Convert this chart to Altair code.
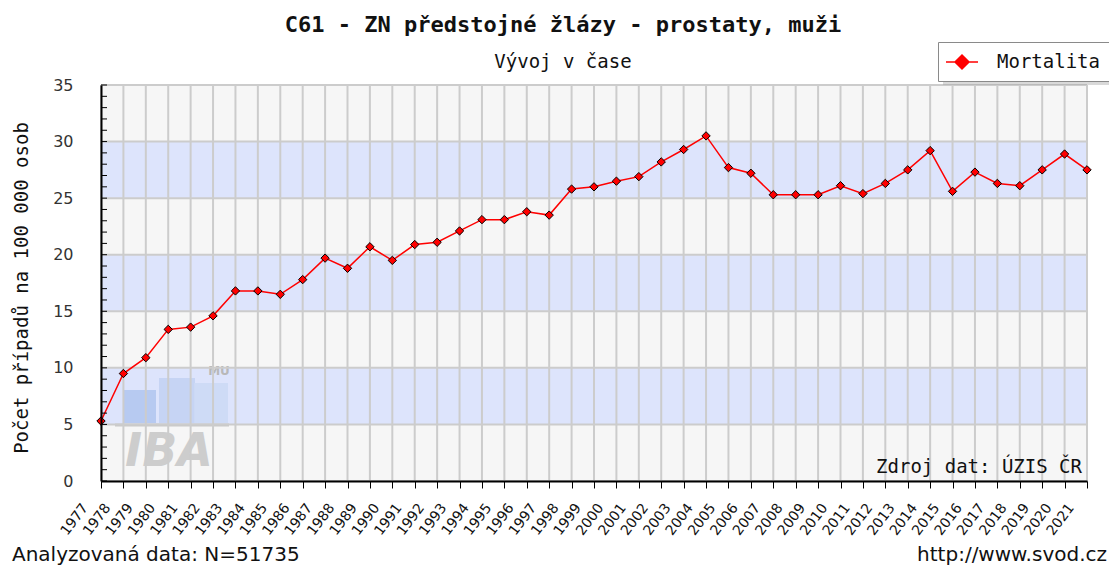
import altair as alt
import pandas as pd

# ---- data ----
years = list(range(1977, 2022))
mortalita = [5.3, 9.5, 10.9, 13.4, 13.6, 14.6, 16.8, 16.8, 16.5, 17.8,
             19.7, 18.8, 20.7, 19.5, 20.9, 21.1, 22.1, 23.1, 23.1, 23.8,
             23.5, 25.8, 26.0, 26.5, 26.9, 28.2, 29.3, 30.5, 27.7, 27.2,
             25.3, 25.3, 25.3, 26.1, 25.4, 26.3, 27.5, 29.2, 25.6, 27.3,
             26.3, 26.1, 27.5, 28.9, 27.5]
series_name = "Mortalita"
band_start = [0, 5, 10, 15, 20, 25, 30]
band_end = [5, 10, 15, 20, 25, 30, 35]
band_color = ["#f6f6f6", "#dde4fc", "#f6f6f6", "#dde4fc", "#f6f6f6", "#dde4fc", "#f6f6f6"]
y_major = [0, 5, 10, 15, 20, 25, 30, 35]
y_minor = list(range(0, 36))

title_text = "C61 - ZN předstojné žlázy - prostaty, muži"
subtitle_text = "Vývoj v čase"
ytitle_text = "Počet případů na 100 000 osob"
source_text = "Zdroj dat: ÚZIS ČR"
n_text = "Analyzovaná data: N=51735"
url_text = "http://www.svod.cz"

W, H = 986, 396

df = pd.DataFrame({"rok": years, "hodnota": mortalita, "serie": series_name})
bands = pd.DataFrame({"y0": band_start, "y1": band_end, "c": band_color})
one = pd.DataFrame({"a": [0]})

yscale = alt.Scale(domain=[0, 35], nice=False, zero=True)
xscale = alt.Scale(domain=[1977, 2021], nice=False, zero=False)

xaxis = alt.Axis(values=years, format="d", labelAngle=-53, labelAlign="right", labelBaseline="middle",
                 labelFont="DejaVu Sans", labelFontSize=14, labelColor="#111", labelPadding=17,
                 labelOffset=-16, tickSize=7, tickColor="black", domainColor="black", domainWidth=2,
                 grid=False, title=None, labelOverlap=False, labelBound=False, labelFlush=False,
                 zindex=1)
yaxis = alt.Axis(values=y_major, labelFont="DejaVu Sans", labelFontSize=16, labelColor="#333",
                 labelPadding=28, ticks=False, domainColor="black", domainWidth=2,
                 grid=False, title=None, labelOverlap=False, zindex=1)

band_layer = alt.Chart(bands).mark_rect().encode(
    x=alt.value(0), x2=alt.value(W),
    y=alt.Y("y0:Q", scale=yscale, axis=yaxis), y2="y1:Q",
    fill=alt.Fill("c:N", scale=None),
)

# watermark (IBA logo approximation)
wm_bars = [
    alt.Chart(one).mark_rect(fill=c, opacity=0.9).encode(
        x=alt.value(x0), x2=alt.value(x1), y=alt.value(y0), y2=alt.value(338))
    for (x0, x1, y0, c) in [(22, 55, 305, "#b3c7ef"), (58, 94, 293, "#c3d2f3"), (93, 127, 298, "#ccd9f5")]
]
wm_base = alt.Chart(one).mark_rule(stroke="#c8c8c8", strokeWidth=3).encode(
    x=alt.value(14), x2=alt.value(128), y=alt.value(340))
wm_iba = alt.Chart(one).mark_text(text="IBA", font="DejaVu Sans", fontSize=46, fontWeight="bold",
                                  fontStyle="italic", color="#cdcdcd", align="center",
                                  baseline="middle").encode(x=alt.value(68), y=alt.value(367))
wm_mu = alt.Chart(one).mark_text(text="MU", font="DejaVu Sans", fontSize=12, fontWeight="bold",
                                 color="#b8b8b8", align="center", baseline="middle").encode(
    x=alt.value(118), y=alt.value(286))

vgrid = alt.Chart(pd.DataFrame({"rok": years})).mark_rule(stroke="#cccccc", strokeWidth=2).encode(
    x=alt.X("rok:Q", scale=xscale, axis=xaxis))
hgrid = alt.Chart(pd.DataFrame({"v": y_major})).mark_rule(stroke="#cccccc", strokeWidth=2).encode(
    y=alt.Y("v:Q", scale=yscale, axis=yaxis))
minor = alt.Chart(pd.DataFrame({"v": y_minor})).mark_rule(stroke="black", strokeWidth=1).encode(
    y=alt.Y("v:Q", scale=yscale, axis=yaxis), x=alt.value(0), x2=alt.value(6))

line = alt.Chart(df).mark_line(color="#ff0000", strokeWidth=1.5).encode(
    x=alt.X("rok:Q", scale=xscale, axis=xaxis),
    y=alt.Y("hodnota:Q", scale=yscale, axis=yaxis),
)
points = alt.Chart(df).mark_point(shape="diamond", filled=True, size=70, stroke="black",
                                  strokeWidth=1, opacity=1).encode(
    x=alt.X("rok:Q", scale=xscale, axis=xaxis),
    y=alt.Y("hodnota:Q", scale=yscale, axis=yaxis),
    fill=alt.Fill("serie:N", scale=alt.Scale(range=["#ff0000"]),
                  legend=alt.Legend(title=None, orient="none", legendX=837, legendY=-43,
                                    fillColor="white", strokeColor="#8a8a8a", padding=9,
                                    labelFont="DejaVu Sans Mono", labelFontSize=19, labelColor="#111",
                                    symbolType="M-1.6,0L1.6,0M0,-0.7L0.7,0L0,0.7L-0.7,0Z",
                                    symbolSize=400, symbolOffset=4, symbolStrokeColor="#ff0000",
                                    symbolStrokeWidth=1.5, labelOffset=24)),
)

shadow = alt.Chart(one).mark_rect(fill="#a0a0a0", opacity=0.4).encode(
    x=alt.value(842), x2=alt.value(1008), y=alt.value(-38), y2=alt.value(0))


def txt(t, x, y, **kw):
    return alt.Chart(one).mark_text(text=t, **kw).encode(x=alt.value(x), y=alt.value(y))


title = txt(title_text, 462, -60, font="DejaVu Sans Mono", fontSize=22, fontWeight="bold",
            color="#111", align="center", baseline="middle")
subtitle = txt(subtitle_text, 462, -23, font="DejaVu Sans Mono", fontSize=19, color="#111",
               align="center", baseline="middle")
ytitle = txt(ytitle_text, -79, 203, font="DejaVu Sans Mono", fontSize=19, color="#111",
             align="center", baseline="middle", angle=270)
source = txt(source_text, 981, 382, font="DejaVu Sans Mono", fontSize=19, color="#111",
             align="right", baseline="middle")
ntext = txt(n_text, -89, 470, font="DejaVu Sans", fontSize=20, color="#111",
            align="left", baseline="middle")
url = txt(url_text, 1006, 470, font="DejaVu Sans", fontSize=20, color="#111",
          align="right", baseline="middle")

chart = alt.layer(
    band_layer, *wm_bars, wm_base, wm_iba, wm_mu, vgrid, hgrid, shadow,
    line, points, minor, title, subtitle, ytitle, source, ntext, url,
).properties(
    width=W, height=H,
    padding={"left": 93, "top": 77, "right": 22, "bottom": 88},
    autosize=alt.AutoSizeParams(type="none"),
).configure_view(stroke=None).configure(background="white")

chart.save("out.html", embed_options={"renderer": "svg", "actions": False})
